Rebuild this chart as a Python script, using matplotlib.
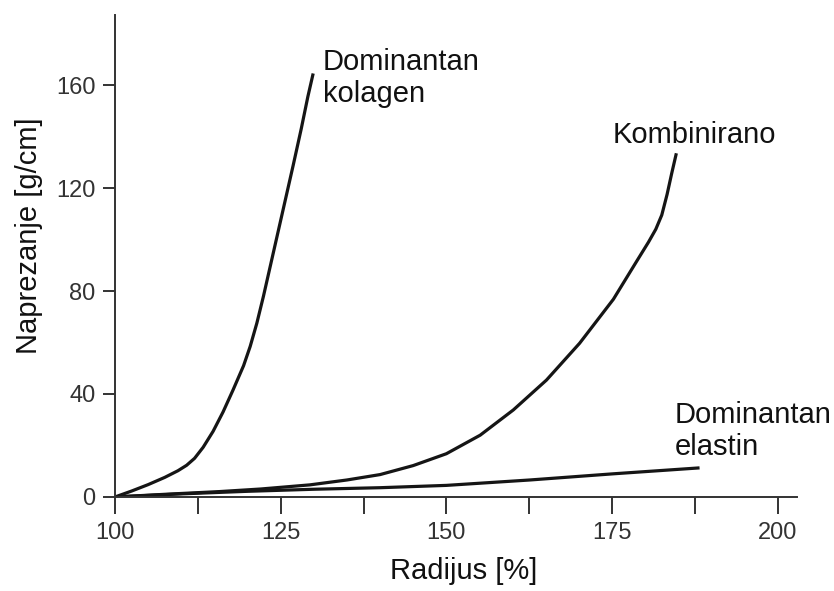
import matplotlib
matplotlib.use("Agg")
import matplotlib.pyplot as plt

plt.rcParams['font.family'] = ['Liberation Sans', 'DejaVu Sans']

# krivulje procitane sa slike (radijus %, naprezanje g/cm)
kolagen_x = [100, 102.5, 105, 107.5, 109.5, 110.8, 112, 113.3, 114.8, 116.3, 117.8, 119.4, 120.4,
             121.4, 122.4, 123.9, 125.4, 126.9, 128.1, 129.1, 129.9]
kolagen_y = [0, 2.3, 4.8, 7.6, 10.2, 12.3, 15, 19.3, 25.5, 33, 41.5, 51, 58.5,
             67.5, 78, 95, 112, 129, 143, 155.5, 164.5]

kombinirano_x = [100, 108, 115.8, 122, 129.4, 135, 140, 145, 150, 155.1, 160.1, 165.1,
                 170.1, 175.2, 178.7, 180.5, 181.6, 182.5, 183.3, 184.0, 184.7]
kombinirano_y = [0, 1.1, 2.1, 3.1, 4.7, 6.6, 8.7, 12.2, 16.8, 24, 33.8, 45.4,
                 59.7, 76.8, 91.5, 99, 104, 109.5, 117.5, 125.7, 133.5]

elastin_x = [100, 110, 120, 130, 140, 150, 162.6, 175.2, 188.2]
elastin_y = [0, 1.2, 2.2, 3.0, 3.6, 4.5, 6.6, 9.0, 11.3]

x_ticks = [100, 125, 150, 175, 200]
x_minor = [112.5, 137.5, 162.5, 187.5]
y_ticks = [0, 40, 80, 120, 160]

fig = plt.figure(figsize=(8.34, 5.91), dpi=100)
ax = fig.add_axes([0.1379, 0.1591, 0.8177, 0.8155])

for xs, ys in [(kolagen_x, kolagen_y), (kombinirano_x, kombinirano_y), (elastin_x, elastin_y)]:
    ax.plot(xs, ys, color='#151515', lw=2.3, solid_capstyle='butt', solid_joinstyle='round')

ax.set_xlim(100, 202.9)
ax.set_ylim(0, 187.2)

for s in ['top', 'right']:
    ax.spines[s].set_visible(False)
for s in ['left', 'bottom']:
    ax.spines[s].set_color('#333333')
    ax.spines[s].set_linewidth(1.4)

ax.set_xticks(x_ticks)
ax.set_xticks(x_minor, minor=True)
ax.set_yticks(y_ticks)
ax.tick_params(axis='x', which='both', direction='out', length=12, width=1.4,
               color='#333333', labelsize=17, labelcolor='#333333', pad=6)
ax.tick_params(axis='y', direction='out', length=9, width=1.4,
               color='#333333', labelsize=17, labelcolor='#333333', pad=5)

ax.set_xlabel('Radijus [%]', fontsize=21, color='#111111')
ax.xaxis.set_label_coords(0.512, -0.125)
ax.set_ylabel('Naprezanje [g/cm]', fontsize=21, color='#111111')
ax.yaxis.set_label_coords(-0.106, 0.5415)

# va='baseline' poravnava zadnji redak
ax.text(131.4, 153.4, 'Dominantan\nkolagen', fontsize=21, color='#111111', ha='left', va='baseline')
ax.text(175.1, 137.5, 'Kombinirano', fontsize=21, color='#111111', ha='left', va='baseline')
ax.text(184.5, 16.3, 'Dominantan\nelastin', fontsize=21, color='#111111', ha='left', va='baseline')

fig.savefig('out.png', dpi=100)
